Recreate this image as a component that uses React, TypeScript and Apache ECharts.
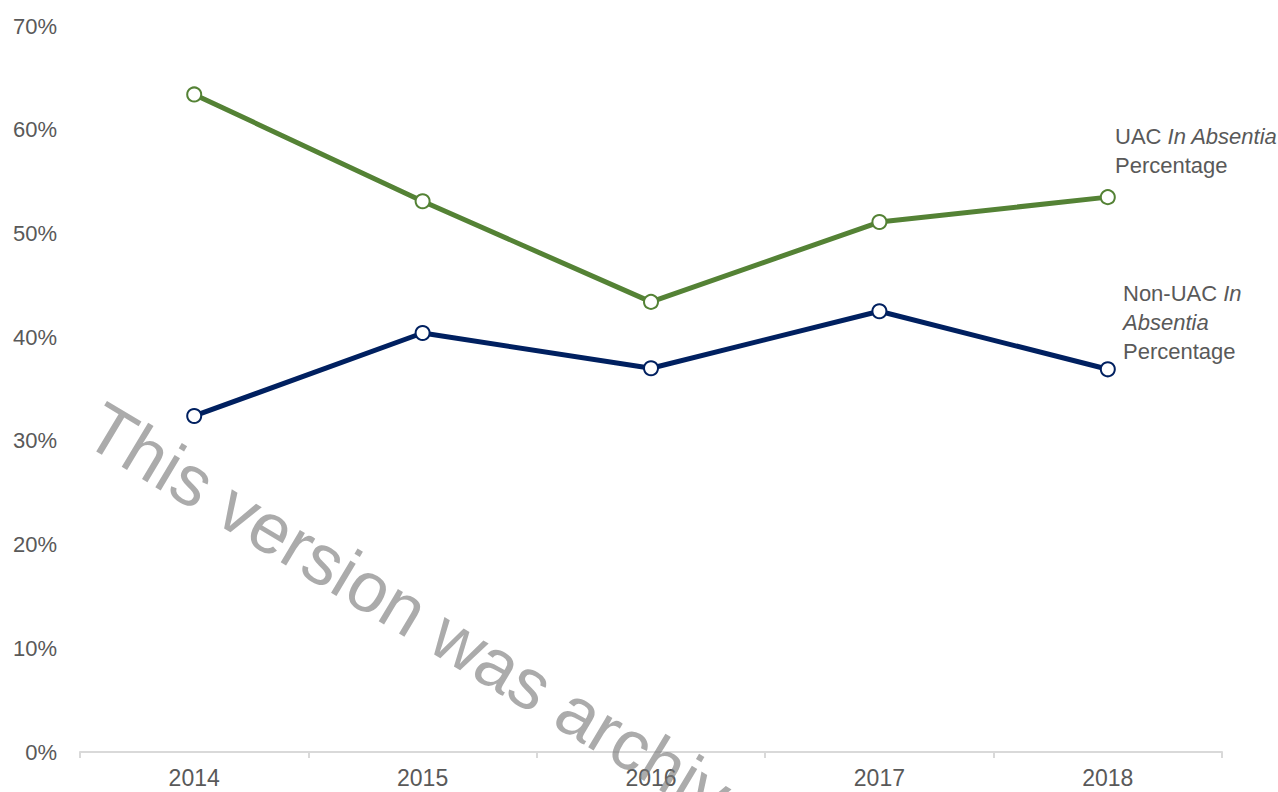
import React, { useEffect, useRef } from "react";
import * as echarts from "echarts";

const years = ["2014", "2015", "2016", "2017", "2018"];
const uacPct = [63.4, 53.1, 43.4, 51.1, 53.5];
const nonUacPct = [32.4, 40.4, 37.0, 42.5, 36.9];
const yTicks = { min: 0, max: 70, interval: 10 };

const GREEN = "#548235";
const NAVY = "#002060";
const TEXT = "#595959";
const FONT = "'Liberation Sans', Arial, sans-serif";

export default function App() {
  const ref = useRef<HTMLDivElement>(null);
  useEffect(() => {
    document.body.style.margin = "0";
    const chart = echarts.init(ref.current!, null, { renderer: "svg" });
    const annRich = {
      n: { fontSize: 22, fontFamily: FONT, fill: TEXT, color: TEXT, lineHeight: 29 },
      i: { fontSize: 22, fontFamily: FONT, fill: TEXT, color: TEXT, fontStyle: "italic", lineHeight: 29 },
    };
    chart.setOption({
      animation: false,
      backgroundColor: "#ffffff",
      grid: { left: 80, right: 56, top: 26, bottom: 40 },
      xAxis: {
        type: "category",
        data: years,
        boundaryGap: true,
        axisLine: { show: true, lineStyle: { color: "#d9d9d9", width: 2 } },
        axisTick: { show: true, alignWithLabel: false, length: 6, lineStyle: { color: "#d9d9d9", width: 2 } },
        axisLabel: { color: TEXT, fontSize: 23, fontFamily: FONT, margin: 14 },
        splitLine: { show: false },
      },
      yAxis: {
        type: "value",
        min: yTicks.min,
        max: yTicks.max,
        interval: yTicks.interval,
        axisLine: { show: false },
        axisTick: { show: false },
        splitLine: { show: false },
        axisLabel: { color: TEXT, fontSize: 22, fontFamily: FONT, margin: 23, formatter: "{value}%" },
      },
      series: [
        {
          name: "UAC In Absentia Percentage",
          type: "line",
          data: uacPct,
          lineStyle: { color: GREEN, width: 5 },
          itemStyle: { color: "#ffffff", borderColor: GREEN, borderWidth: 2 },
          symbol: "circle",
          symbolSize: 14,
          z: 3,
        },
        {
          name: "Non-UAC In Absentia Percentage",
          type: "line",
          data: nonUacPct,
          lineStyle: { color: NAVY, width: 5 },
          itemStyle: { color: "#ffffff", borderColor: NAVY, borderWidth: 2 },
          symbol: "circle",
          symbolSize: 14,
          z: 3,
        },
      ],
      graphic: [
        {
          type: "text",
          x: 1115,
          y: 122,
          z: 50,
          style: {
            text: "{n|UAC }{i|In Absentia}\n{n|Percentage}",
            rich: annRich,
            fill: TEXT,
            verticalAlign: "top",
            align: "left",
          },
        },
        {
          type: "text",
          x: 1123,
          y: 279,
          z: 50,
          style: {
            text: "{n|Non-UAC }{i|In}\n{i|Absentia}\n{n|Percentage}",
            rich: annRich,
            fill: TEXT,
            verticalAlign: "top",
            align: "left",
          },
        },
        {
          type: "text",
          x: 93,
          y: 421,
          rotation: (-31 * Math.PI) / 180,
          z: 100,
          silent: true,
          style: {
            text: "This version was archived",
            fontSize: 71,
            fontFamily: FONT,
            fill: "rgba(120,120,120,0.62)",
            align: "left",
            verticalAlign: "middle",
          },
        },
      ],
    });
    return () => chart.dispose();
  }, []);
  return <div ref={ref} style={{ width: 1278, height: 792 }} />;
}
